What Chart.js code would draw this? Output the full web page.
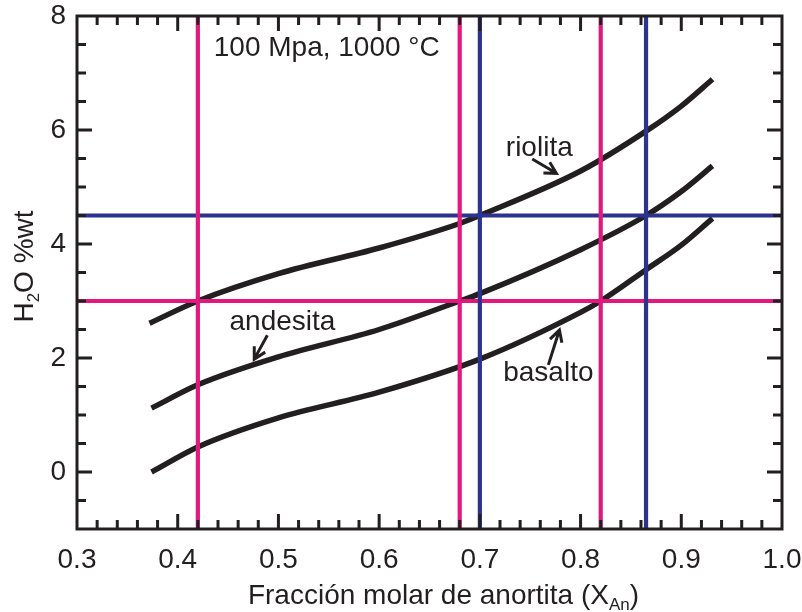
<!DOCTYPE html>
<html>
<head>
<meta charset="utf-8">
<script src="https://cdn.jsdelivr.net/npm/chart.js@4.4.1/dist/chart.umd.min.js"></script>
<style>
  html, body { margin: 0; padding: 0; background: #ffffff; }
  #wrap { width: 802px; height: 612px; }
</style>
</head>
<body>
<div id="wrap"><canvas id="chart" width="802" height="612"></canvas></div>
<script>
// Axis tick labels
const xTicks = [0.3, 0.4, 0.5, 0.6, 0.7, 0.8, 0.9, 1.0];
const yTicks = [0, 2, 4, 6, 8];

// Water solubility curves (H2O wt%) against anorthite mole fraction
const riolitaX = [0.372, 0.42, 0.50, 0.60, 0.68, 0.70, 0.80, 0.865, 0.90, 0.931];
const riolitaY = [2.61, 3.00, 3.48, 3.93, 4.36, 4.50, 5.28, 5.98, 6.42, 6.89];

const andesitaX = [0.374, 0.42, 0.50, 0.60, 0.68, 0.70, 0.80, 0.865, 0.90, 0.931];
const andesitaY = [1.12, 1.53, 2.02, 2.50, 3.00, 3.13, 3.90, 4.50, 4.92, 5.37];

const basaltoX = [0.374, 0.42, 0.50, 0.60, 0.70, 0.80, 0.82, 0.865, 0.90, 0.931];
const basaltoY = [0.00, 0.44, 0.95, 1.40, 1.98, 2.80, 3.00, 3.55, 3.98, 4.45];

// Reference lines
const pinkX = [0.42, 0.68, 0.82];
const blueX = [0.70, 0.865];
const pinkY = [3.0];
const blueY = [4.5];

const X_MIN = 0.3, X_MAX = 1.0, Y_MIN = -1, Y_MAX = 8;

const INK = '#231f20';
const PINK = '#e3187f';
const NAVY = '#2c3290';
const FONT = '"Liberation Sans", Arial, Helvetica, sans-serif';
const FONT_SIZE = 28;

const pts = (xs, ys) => xs.map((x, i) => ({ x: x, y: ys[i] }));

function curveSet(label, xs, ys) {
  return {
    label: label,
    data: pts(xs, ys),
    showLine: true,
    borderColor: INK,
    borderWidth: 5.5,
    pointRadius: 0,
    cubicInterpolationMode: 'monotone',
    order: 2
  };
}
function vLine(x, color) {
  return {
    data: [{ x: x, y: Y_MIN }, { x: x, y: Y_MAX }],
    showLine: true, borderColor: color, borderWidth: 4.2, pointRadius: 0, order: 1
  };
}
function hLine(y, color) {
  return {
    data: [{ x: X_MIN, y: y }, { x: X_MAX, y: y }],
    showLine: true, borderColor: color, borderWidth: 4.2, pointRadius: 0, order: 1
  };
}

// Text labels and arrows placed in data coordinates
const notes = [
  { text: '100 Mpa, 1000 °C', x: 0.548, y: 7.44 },
  { text: 'riolita', x: 0.759, y: 5.68 },
  { text: 'andesita', x: 0.504, y: 2.63 },
  { text: 'basalto', x: 0.768, y: 1.74 }
];
const arrows = [
  { from: [0.752, 5.49], to: [0.776, 5.24] },
  { from: [0.489, 2.40], to: [0.476, 1.98] },
  { from: [0.768, 1.88], to: [0.779, 2.49] }
];

// Draws a run of text pieces, some of them subscripts, centred on (cx, baseline)
function richText(ctx, parts, cx, baseline) {
  let total = 0;
  parts.forEach(p => {
    ctx.font = (p.sub ? 17 : FONT_SIZE) + 'px ' + FONT;
    p.w = ctx.measureText(p.t).width;
    total += p.w;
  });
  let x = cx - total / 2;
  ctx.textAlign = 'left';
  ctx.textBaseline = 'alphabetic';
  parts.forEach(p => {
    ctx.font = (p.sub ? 17 : FONT_SIZE) + 'px ' + FONT;
    ctx.fillText(p.t, x, baseline + (p.sub ? 6 : 0));
    x += p.w;
  });
}

const framePlugin = {
  id: 'framePlugin',
  afterDatasetsDraw(chart) {
    const ctx = chart.ctx;
    const a = chart.chartArea;
    const xs = chart.scales.x, ys = chart.scales.y;
    ctx.save();
    ctx.strokeStyle = INK;
    ctx.lineWidth = 3;
    ctx.lineCap = 'butt';

    // inward ticks on all four sides
    ctx.beginPath();
    for (let i = 1; i < 35; i++) {
      const v = X_MIN + i * 0.02;
      const major = i % 5 === 0;
      const len = major ? 15 : 9;
      const px = xs.getPixelForValue(v);
      ctx.moveTo(px, a.bottom); ctx.lineTo(px, a.bottom - len);
      ctx.moveTo(px, a.top); ctx.lineTo(px, a.top + len);
    }
    for (let i = 1; i < 18; i++) {
      const v = Y_MIN + i * 0.5;
      const major = Math.abs(v % 2) < 1e-9;
      const len = major ? 15 : 9;
      const py = ys.getPixelForValue(v);
      ctx.moveTo(a.left, py); ctx.lineTo(a.left + len, py);
      ctx.moveTo(a.right, py); ctx.lineTo(a.right - len, py);
    }
    ctx.stroke();

    // frame
    ctx.strokeRect(a.left, a.top, a.right - a.left, a.bottom - a.top);

    // labels
    ctx.fillStyle = INK;
    ctx.font = FONT_SIZE + 'px ' + FONT;
    ctx.textAlign = 'center';
    ctx.textBaseline = 'middle';
    notes.forEach(n => {
      ctx.fillText(n.text, xs.getPixelForValue(n.x), ys.getPixelForValue(n.y));
    });

    // arrows
    ctx.lineWidth = 3;
    ctx.lineJoin = 'miter';
    arrows.forEach(ar => {
      const x0 = xs.getPixelForValue(ar.from[0]), y0 = ys.getPixelForValue(ar.from[1]);
      const x1 = xs.getPixelForValue(ar.to[0]), y1 = ys.getPixelForValue(ar.to[1]);
      const ang = Math.atan2(y1 - y0, x1 - x0);
      const head = 13, spread = 0.5;
      ctx.beginPath();
      ctx.moveTo(x0, y0); ctx.lineTo(x1, y1);
      ctx.moveTo(x1 - head * Math.cos(ang - spread), y1 - head * Math.sin(ang - spread));
      ctx.lineTo(x1, y1);
      ctx.lineTo(x1 - head * Math.cos(ang + spread), y1 - head * Math.sin(ang + spread));
      ctx.stroke();
    });

    // axis titles
    richText(ctx, [{ t: 'Fracción molar de anortita (X' }, { t: 'An', sub: true }, { t: ')' }],
      (a.left + a.right) / 2 + 14, 604);
    ctx.save();
    ctx.translate(33, (a.top + a.bottom) / 2 - 6);
    ctx.rotate(-Math.PI / 2);
    richText(ctx, [{ t: 'H' }, { t: '2', sub: true }, { t: 'O %wt' }], 0, 0);
    ctx.restore();

    ctx.restore();
  }
};

const tickFont = { family: FONT, size: FONT_SIZE };

new Chart(document.getElementById('chart'), {
  type: 'scatter',
  data: {
    datasets: [
      curveSet('riolita', riolitaX, riolitaY),
      curveSet('andesita', andesitaX, andesitaY),
      curveSet('basalto', basaltoX, basaltoY),
      ...pinkX.map(x => vLine(x, PINK)),
      ...blueX.map(x => vLine(x, NAVY)),
      ...pinkY.map(y => hLine(y, PINK)),
      ...blueY.map(y => hLine(y, NAVY))
    ]
  },
  options: {
    responsive: false,
    devicePixelRatio: 1,
    animation: false,
    layout: { padding: { top: 16, right: 20, left: 0, bottom: 0 } },
    plugins: { legend: { display: false }, tooltip: { enabled: false } },
    scales: {
      x: {
        type: 'linear',
        min: X_MIN, max: X_MAX,
        grid: { display: false, drawTicks: false },
        border: { display: false },
        afterBuildTicks: s => { s.ticks = xTicks.map(v => ({ value: v })); },
        afterFit: s => { s.height = 83; s.paddingLeft = 0; s.paddingRight = 0; },
        ticks: {
          font: tickFont, color: INK, padding: 14, maxRotation: 0,
          callback: v => Number(v).toFixed(1)
        }
      },
      y: {
        type: 'linear',
        min: Y_MIN, max: Y_MAX,
        grid: { display: false, drawTicks: false },
        border: { display: false },
        afterBuildTicks: s => { s.ticks = yTicks.map(v => ({ value: v })); },
        afterFit: s => { s.width = 77; s.paddingTop = 0; s.paddingBottom = 0; },
        ticks: { font: tickFont, color: INK, padding: 11, callback: v => String(v) }
      }
    }
  },
  plugins: [framePlugin]
});
</script>
</body>
</html>
